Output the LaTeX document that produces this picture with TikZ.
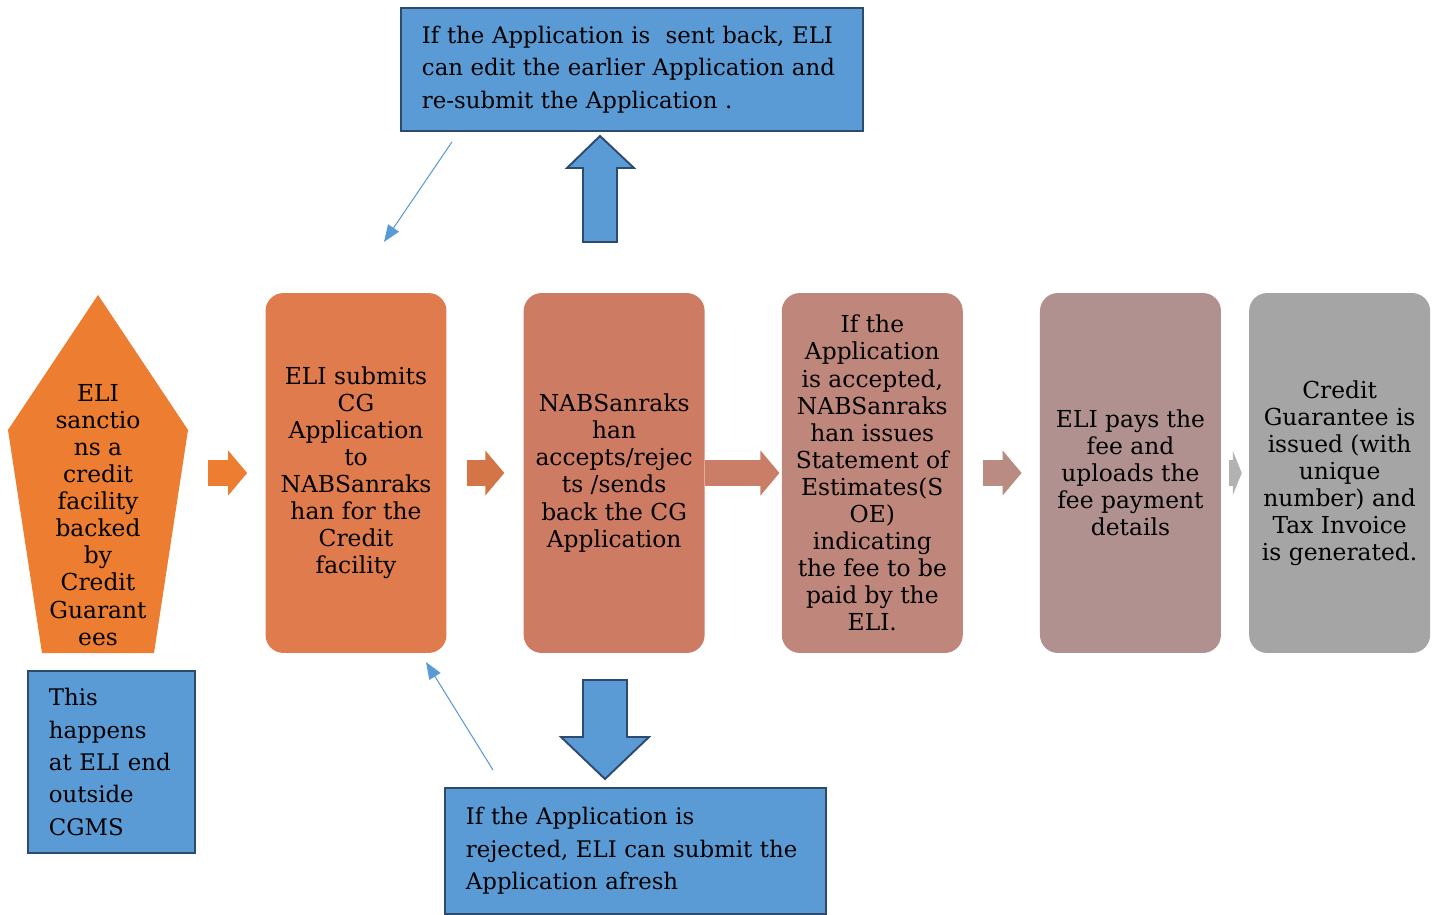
\documentclass[tikz,border=0pt]{standalone}
\usepackage{xcolor}
\usepackage{fontspec}
\setmainfont{DejaVu Serif}
\usepackage{tikz}
\usetikzlibrary{arrows.meta, positioning}
\definecolor{eliorange}{HTML}{ED7D31}
\definecolor{stepone}{HTML}{DF7B4C}
\definecolor{steptwo}{HTML}{CD7C63}
\definecolor{stepthree}{HTML}{BF877B}
\definecolor{stepfour}{HTML}{B1918F}
\definecolor{stepfive}{HTML}{A5A5A5}
\definecolor{noteblue}{HTML}{5B9BD5}
\definecolor{noteedge}{HTML}{2E4B6F}

\begin{document}
\begin{tikzpicture}[
    x=0.02cm, y=-0.02cm,
    stepbox/.style={rectangle, rounded corners=0.36cm, minimum width=3.62cm, minimum height=7.2cm, inner sep=0pt, align=center, font=\fontsize{13.3}{15.4}\selectfont},
    note/.style={rectangle, draw=noteedge, line width=1.1pt, fill=noteblue, anchor=north west, inner xsep=0.42cm, inner ysep=0pt, align=left, font=\fontsize{13}{18.4}\selectfont},
    chev/.style={line width=0.54cm, -{Triangle[length=0.38cm, width=0.88cm]}},
    blockarrow/.style={draw=noteedge, line width=1.1pt, fill=noteblue, line join=miter},
    thinarrow/.style={draw=noteblue, line width=0.6pt, -{Triangle[length=0.34cm, width=0.26cm]}}
]
    \useasboundingbox (0,0) rectangle (1437,915);

    % ELI side
    \fill[eliorange] (98,295) -- (188,430) -- (154,653) -- (42,653) -- (8,430) -- cycle;
    \node[align=center, inner sep=0pt, font=\fontsize{13.3}{15.4}\selectfont] (eli) at (98,515)
        {ELI\\sanctio\\ns a\\credit\\facility\\backed\\by\\Credit\\Guarant\\ees};

    % Steps
    \node[stepbox, fill=stepone] (b1) at (356,473)
        {ELI submits\\CG\\Application\\to\\NABSanraks\\han for the\\Credit\\facility};
    \node[stepbox, fill=steptwo, right=1.53cm of b1] (b2)
        {NABSanraks\\han\\accepts/rejec\\ts /sends\\back the CG\\Application};
    \node[stepbox, fill=stepthree, right=1.53cm of b2] (b3)
        {If the\\Application\\is accepted,\\NABSanraks\\han issues\\Statement of\\Estimates(S\\OE)\\indicating\\the fee to be\\paid by the\\ELI.};
    \node[stepbox, fill=stepfour, right=1.53cm of b3] (b4)
        {ELI pays the\\fee and\\uploads the\\fee payment\\details};
    \node[stepbox, fill=stepfive, right=0.55cm of b4] (b5)
        {Credit\\Guarantee is\\issued (with\\unique\\number) and\\Tax Invoice\\is generated.};

    % Chevrons
    \draw[chev, eliorange] ([xshift=-1.14cm]b1.west) -- ([xshift=-0.36cm]b1.west);
    \draw[chev, stepone!95!black, shorten <=0.4cm, shorten >=0.38cm] (b1.east) -- (b2.west);
    \draw[chev, steptwo!85!stepthree, shorten >=0.04cm] (b2.east) -- (b3.west);
    \draw[chev, stepthree!60!stepfour, shorten <=0.4cm, shorten >=0.36cm] (b3.east) -- (b4.west);
    \draw[line width=0.54cm, -{Triangle[length=0.18cm, width=0.88cm]}, stepfive!85!white, shorten <=0.16cm, shorten >=0.14cm] (b4.east) -- (b5.west);

    % Notes
    \node[note, minimum width=9.24cm, minimum height=2.46cm, text width=8.4cm] (sentback) at (400,7)
        {If the Application is\ \ sent back, ELI\\can edit the earlier Application and\\re-submit the Application .};
    \node[note, minimum width=3.34cm, minimum height=3.64cm, text width=2.5cm] (outside) at (27,670)
        {This\\happens\\at ELI end\\outside\\CGMS};
    \node[note, minimum width=7.62cm, minimum height=2.52cm, text width=6.78cm] (rejected) at (444,787)
        {If the Application is\\rejected, ELI can submit the\\Application afresh};

    % Block arrows
    \draw[blockarrow] (583,242) -- (583,168) -- (567,168) -- (600,136) -- (634,168) -- (617,168) -- (617,242) -- cycle;
    \draw[blockarrow] (583,680) -- (583,737) -- (561,737) -- (605,779) -- (649,737) -- (627,737) -- (627,680) -- cycle;

    % Back links
    \coordinate (resubmit) at (384,242);
    \coordinate (afresh) at (426,662);
    \draw[thinarrow] ([xshift=1.04cm, yshift=-0.2cm]sentback.south west) -- (resubmit);
    \draw[thinarrow] ([xshift=0.98cm, yshift=0.34cm]rejected.north west) -- (afresh);
\end{tikzpicture}
\end{document}
